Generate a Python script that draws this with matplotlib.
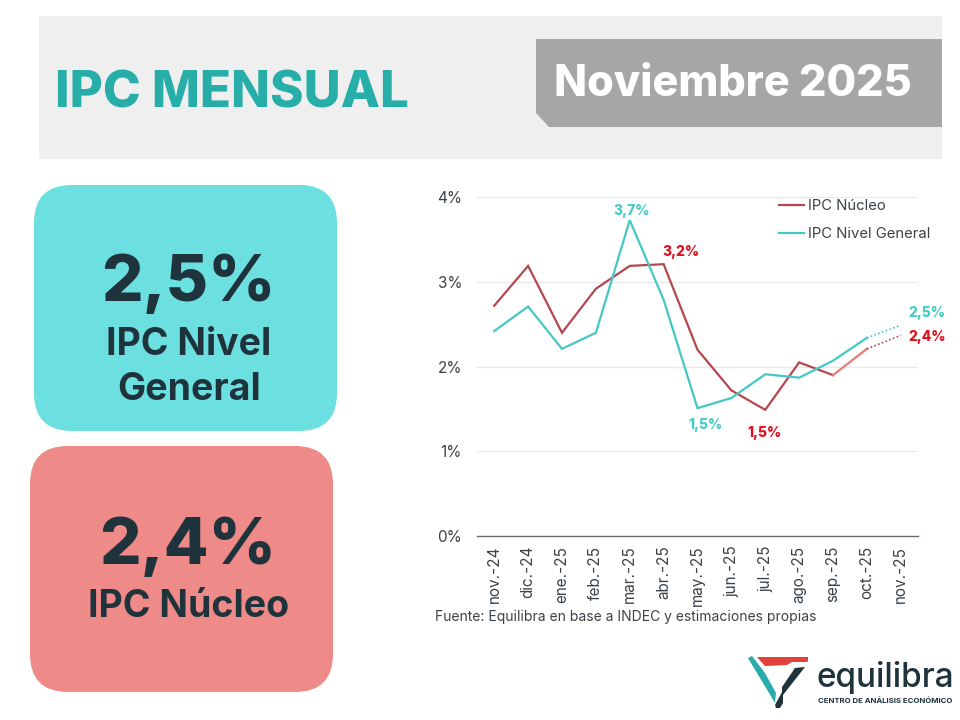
import matplotlib
matplotlib.use("Agg")
import matplotlib.pyplot as plt
from matplotlib.patches import FancyBboxPatch, Polygon, Rectangle

months = ["nov.-24", "dic.-24", "ene.-25", "feb.-25", "mar.-25", "abr.-25", "may.-25",
          "jun.-25", "jul.-25", "ago.-25", "sep.-25", "oct.-25", "nov.-25"]
nucleo = [2.72, 3.19, 2.40, 2.92, 3.19, 3.21, 2.20, 1.72, 1.49, 2.05, 1.90, 2.21]
general = [2.42, 2.71, 2.21, 2.40, 3.73, 2.79, 1.51, 1.63, 1.91, 1.87, 2.07, 2.34]
nucleo_est = [2.21, 2.37]
general_est = [2.34, 2.49]
y_ticks = [0, 1, 2, 3, 4]
y_labels = ["0%", "1%", "2%", "3%", "4%"]

W, H = 960, 720
TEAL = "#45C8C4"
RED = "#B5474F"
RED_LIGHT = "#E87A7A"
LABEL_RED = "#E0101E"
LABEL_TEAL = "#45CCC8"
DARK = "#1F333D"
TICK = "#3A4248"
FONT = "Inter"
plt.rcParams["font.family"] = [FONT, "DejaVu Sans"]

fig = plt.figure(figsize=(W / 100, H / 100), dpi=100, facecolor="white")

# Layout layer in pixel coordinates
bg = fig.add_axes([0, 0, 1, 1])
bg.set_xlim(0, W)
bg.set_ylim(H, 0)
bg.axis("off")

bg.add_patch(Rectangle((39, 16), 903, 143, fc="#EFEFEF", ec="none"))
bg.add_patch(Polygon([(536, 39), (942, 39), (942, 127), (549, 127), (536, 113)], fc="#A6A6A6", ec="none"))
bg.text(55, 108, "IPC MENSUAL", color="#27AEA9", fontsize=36.7, fontweight=800, va="baseline", ha="left")
bg.text(732.5, 96, "Noviembre 2025", color="white", fontsize=31, fontweight=800, va="baseline", ha="center")


def card(x, y, w, h, r, color):
    bg.add_patch(FancyBboxPatch((x + r, y + r), w - 2 * r, h - 2 * r,
                                boxstyle=f"round,pad={r},rounding_size={r}", fc=color, ec="none"))


card(34, 185, 303, 246, 38, "#6CE0E0")
card(30, 446, 303, 246, 38, "#EE8A87")

big = dict(color=DARK, fontsize=47, fontweight=800, ha="center", va="baseline")
mid = dict(color=DARK, fontsize=27, fontweight="bold", ha="center", va="baseline")
bg.text(188, 301, "2,5%", **big)
bg.text(189, 355, "IPC Nivel", **mid)
bg.text(189, 400, "General", **mid)
bg.text(188, 564, "2,4%", **big)
bg.text(189, 617, "IPC Núcleo", **mid)

bg.text(435, 617, "Fuente: Equilibra en base a INDEC y estimaciones propias", color=TICK, fontsize=10,
        ha="left", va="center")

# Logo
bg.add_patch(Polygon([(757, 657), (808, 657), (808, 661), (807, 662), (792, 662), (787, 665), (765, 666)],
                     fc="#E2403C", ec="none"))
bg.add_patch(Polygon([(748, 658), (752, 656), (765, 673), (776, 693), (775, 703)], fc="#2AACAC", ec="none"))
bg.add_patch(Polygon([(795, 668), (805, 667), (783, 695), (783, 703), (780, 708), (776, 708), (775, 705),
                      (782, 692), (782, 687)], fc="#1F333D", ec="none"))
bg.text(817, 687, "equilibra", color=DARK, fontsize=24, fontweight="medium", ha="left", va="baseline")
bg.text(818, 701, "CENTRO DE ANÁLISIS ECONÓMICO", color=DARK, fontsize=5.6, fontweight="bold", ha="left", va="center")

# Chart
left, right, top, bottom = 477.3, 917.7, 197.3, 536.0
ax = fig.add_axes([left / W, 1 - bottom / H, (right - left) / W, (bottom - top) / H])
ax.patch.set_alpha(0)
x = list(range(len(months)))
ax.set_xlim(-0.5, len(months) - 0.5)
ax.set_ylim(0, 4)
ax.set_yticks(y_ticks, y_labels)
ax.set_xticks(x, months, rotation=90)
ax.tick_params(axis="both", length=0, labelcolor=TICK, labelsize=11)
ax.tick_params(axis="y", pad=11)
ax.tick_params(axis="x", pad=7)
ax.grid(axis="y", color="#E8E8E8", lw=0.9)
ax.set_axisbelow(True)
for s in ("top", "left", "right"):
    ax.spines[s].set_visible(False)
ax.spines["bottom"].set_color("#5F6F70")
ax.spines["bottom"].set_linewidth(1)

ax.plot(x[:11], nucleo[:11], color=RED, lw=1.6, solid_joinstyle="miter", label="IPC Núcleo")
ax.plot(x[10:12], nucleo[10:12], color=RED_LIGHT, lw=1.6)
ax.plot(x[:12], general, color=TEAL, lw=1.6, solid_joinstyle="miter", label="IPC Nivel General")
ax.plot(x[11:13], nucleo_est, color=RED, lw=1.2, ls=(0, (1, 1.4)))
ax.plot(x[11:13], general_est, color=TEAL, lw=1.2, ls=(0, (1, 1.4)))

leg = ax.legend(loc="upper left", bbox_to_anchor=(0.685, 0.995), frameon=False, fontsize=10.7, labelcolor=TICK,
                handlelength=1.68, handletextpad=0.27, labelspacing=0.96, borderpad=0, borderaxespad=0)

bold = dict(fontweight=800, fontsize=10, ha="center", va="center")
ax.annotate("3,7%", (4, general[4]), xytext=(1.5, 6.5), textcoords="offset points", color=LABEL_TEAL, **bold)
ax.annotate("3,2%", (5, nucleo[5]), xytext=(12.5, 9), textcoords="offset points", color=LABEL_RED, **bold)
ax.annotate("1,5%", (6, general[6]), xytext=(6, -12), textcoords="offset points", color=LABEL_TEAL, **bold)
ax.annotate("1,5%", (8, nucleo[8]), xytext=(-0.5, -17), textcoords="offset points", color=LABEL_RED, **bold)
ax.annotate("2,5%", (12, general_est[1]), xytext=(19, 9), textcoords="offset points", color=LABEL_TEAL,
            annotation_clip=False, **bold)
ax.annotate("2,4%", (12, nucleo_est[1]), xytext=(19, -1.5), textcoords="offset points", color=LABEL_RED,
            annotation_clip=False, **bold)

fig.savefig("out.png", dpi=100)
